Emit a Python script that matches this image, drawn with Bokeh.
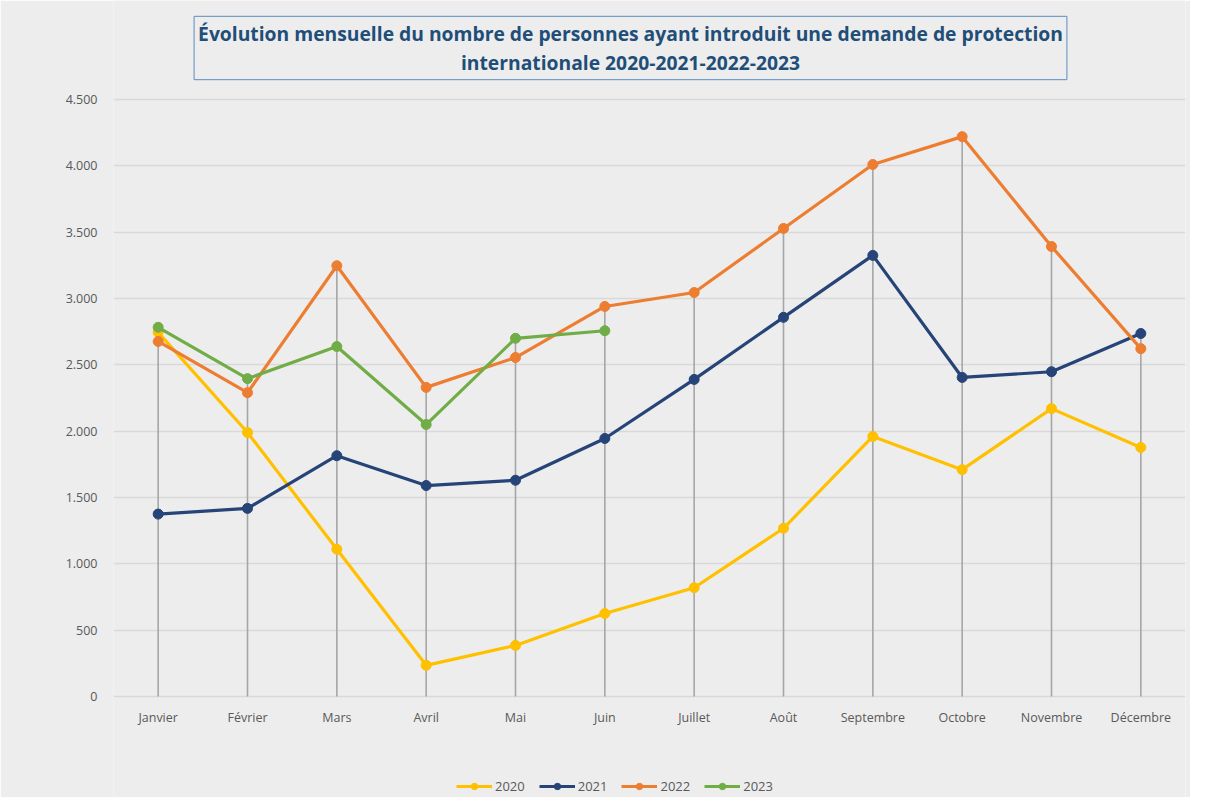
from bokeh.plotting import figure
from bokeh.models import (Range1d, FactorRange, FixedTicker, Label, Legend, LegendItem,
                          ColumnDataSource)
from bokeh.embed import file_html
from bokeh.resources import INLINE

months = ["Janvier", "Février", "Mars", "Avril", "Mai", "Juin", "Juillet", "Août",
          "Septembre", "Octobre", "Novembre", "Décembre"]
years = ["2020", "2021", "2022", "2023"]
v2020 = [2745, 1990, 1110, 235, 385, 625, 820, 1268, 1960, 1710, 2170, 1877]
v2021 = [1375, 1418, 1815, 1590, 1630, 1945, 2390, 2858, 3325, 2405, 2448, 2736]
v2022 = [2676, 2290, 3247, 2330, 2555, 2940, 3045, 3528, 4010, 4220, 3392, 2622]
v2023 = [2783, 2396, 2638, 2050, 2700, 2757]
colors = ["#FFC000", "#264478", "#ED7D31", "#70AD47"]
y_ticks = [0, 500, 1000, 1500, 2000, 2500, 3000, 3500, 4000, 4500]
title_text = ("Évolution mensuelle du nombre de personnes ayant introduit une demande de protection\n"
              "internationale 2020-2021-2022-2023")

series = [v2020, v2021, v2022, v2023]
BG = "#EDEDED"
FONT = "Open Sans"

W, H = 1190, 797
FRAME_LEFT, FRAME_RIGHT = 113, 1185
Y0_PX, Y4500_PX = 696, 99
per_px = 4500 / (Y0_PX - Y4500_PX)
y_start = -(H - Y0_PX) * per_px
y_end = 4500 + Y4500_PX * per_px

p = figure(width=W, height=H, output_backend="svg", toolbar_location=None,
           x_range=FactorRange(*months), y_range=Range1d(y_start, y_end),
           min_border_left=FRAME_LEFT, min_border_right=W - FRAME_RIGHT,
           min_border_top=0, min_border_bottom=0)
p.background_fill_color = BG
p.border_fill_color = BG
p.outline_line_color = None

# grid
p.xgrid.grid_line_color = None
p.ygrid.grid_line_color = "#D9D9D9"
p.ygrid.grid_line_width = 1.4
p.yaxis.ticker = FixedTicker(ticks=y_ticks)
p.yaxis.major_label_overrides = {t: f"{t:,}".replace(",", ".") for t in y_ticks}
p.yaxis.axis_line_color = None
p.yaxis.major_tick_line_color = None
p.yaxis.minor_tick_line_color = None
p.yaxis.major_label_standoff = 10
p.xaxis.fixed_location = 0
p.xaxis.axis_line_color = None
p.xaxis.major_tick_line_color = None
p.xaxis.minor_tick_line_color = None
p.xaxis.major_label_standoff = 6
for ax in (p.xaxis, p.yaxis):
    ax.major_label_text_font = FONT
    ax.major_label_text_font_size = "12.5px"
    ax.major_label_text_color = "#595959"

# drop lines from the highest value of each month down to the axis
maxes = []
for i in range(len(months)):
    vals = [s[i] for s in series if i < len(s)]
    maxes.append(max(vals))
p.segment(x0=months, y0=[0] * len(months), x1=months, y1=maxes,
          line_color="#A6A6A6", line_width=1.6)

items = []
for name, vals, c in zip(years, series, colors):
    src = ColumnDataSource(dict(x=months[:len(vals)], y=vals))
    r1 = p.line("x", "y", source=src, line_color=c, line_width=3.2)
    r2 = p.scatter("x", "y", source=src, size=10, fill_color=c, line_color=c)
    items.append(LegendItem(label=name, renderers=[r1, r2]))

legend = Legend(items=items, orientation="horizontal", location=(343, 2),
                background_fill_alpha=0, border_line_color=None,
                label_text_font=FONT, label_text_font_size="13px",
                label_text_color="#595959", glyph_width=36, glyph_height=16,
                label_standoff=3, spacing=14, padding=1, margin=0)
p.add_layout(legend, "center")

title = Label(x=517, y=H - 47.5, x_units="screen", y_units="screen", text=title_text,
              text_align="center", text_baseline="middle",
              text_font=FONT, text_font_style="bold", text_font_size="19.3px",
              text_color="#1F4E79", text_line_height=1.05,
              border_line_color="#5B8DC0", border_line_width=1,
              background_fill_color=BG, padding=(4, 4))
p.add_layout(title)

open("out.html", "w").write(file_html(p, INLINE))
